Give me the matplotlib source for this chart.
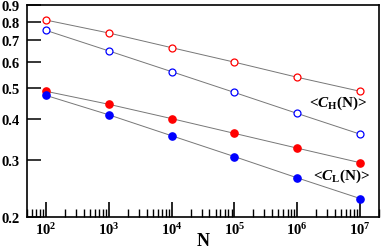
import math
import matplotlib
matplotlib.use("Agg")
from matplotlib import pyplot as plt
from matplotlib.ticker import FixedLocator, NullFormatter, NullLocator, FuncFormatter

# polices : serif gras partout
plt.rcParams['font.family'] = 'Liberation Serif'
plt.rcParams['font.weight'] = 'bold'
plt.rcParams['mathtext.fontset'] = 'custom'
plt.rcParams['mathtext.rm'] = 'Liberation Serif:bold'
plt.rcParams['mathtext.it'] = 'Liberation Serif:italic:bold'
plt.rcParams['mathtext.bf'] = 'Liberation Serif:bold'

# données
N = [1e2, 1e3, 1e4, 1e5, 1e6, 1e7]
CH_rouge = [0.809, 0.738, 0.665, 0.600, 0.539, 0.488]
CH_bleu = [0.752, 0.650, 0.561, 0.484, 0.417, 0.360]
CL_rouge = [0.488, 0.445, 0.402, 0.362, 0.326, 0.294]
CL_bleu = [0.474, 0.413, 0.356, 0.307, 0.264, 0.228]
yticks = [0.2, 0.3, 0.4, 0.5, 0.6, 0.7, 0.8, 0.9]

fig = plt.figure(figsize=(3.82, 2.51), dpi=100)
ax = fig.add_axes([0.0707, 0.1315, 0.9215, 0.8445])

# lignes grises reliant les points
for y in [CH_rouge, CH_bleu, CL_rouge, CL_bleu]:
    ax.plot(N, y, color='#777777', lw=0.7, zorder=1)

ax.plot(N, CH_rouge, 'o', ms=5, mfc='white', mec='red', mew=0.9, zorder=3)
ax.plot(N, CH_bleu, 'o', ms=5, mfc='white', mec='blue', mew=0.9, zorder=3)
ax.plot(N, CL_rouge, 'o', ms=5.2, color='red', mec='red', zorder=3)
ax.plot(N, CL_bleu, 'o', ms=5.2, color='blue', mec='blue', zorder=3)

ax.set_xscale('log')
ax.set_yscale('log')
ax.set_xlim(50, 2e7)
ax.set_ylim(0.2, 0.9)

# axe y : seulement les graduations majeures
ax.yaxis.set_major_locator(FixedLocator(yticks))
ax.yaxis.set_minor_locator(NullLocator())
ax.yaxis.set_major_formatter(FuncFormatter(lambda v, p: '%.1f' % v))

# axe x : décades + petites graduations 2..9
mineurs = [k * 10 ** e for e in range(1, 8) for k in range(2, 10) if 50 <= k * 10 ** e <= 2e7]
ax.xaxis.set_major_locator(FixedLocator(N))
ax.xaxis.set_minor_locator(FixedLocator(mineurs))
ax.xaxis.set_major_formatter(FuncFormatter(lambda v, p: r'$\mathbf{10^{%d}}$' % round(math.log10(v))))
ax.xaxis.set_minor_formatter(NullFormatter())

ax.tick_params(which='both', direction='in', top=False, right=False, labelsize=10.5)
ax.tick_params(axis='y', which='major', length=10, width=1.1, pad=5)
ax.tick_params(axis='x', which='major', length=11, width=1.2, pad=3)
ax.tick_params(axis='x', which='minor', length=5.5, width=1.0)
for s in ax.spines.values():
    s.set_linewidth(1.2)

ax.set_xlabel('N', fontsize=13, fontweight='bold', labelpad=-4)

ax.text(1.55e6, 0.452, r'<$C_\mathrm{H}$(N)>', fontsize=11, fontweight='bold', va='center')
ax.text(1.75e6, 0.269, r'<$C_\mathrm{L}$(N)>', fontsize=11, fontweight='bold', va='center')

fig.savefig('out.png', dpi=100)
